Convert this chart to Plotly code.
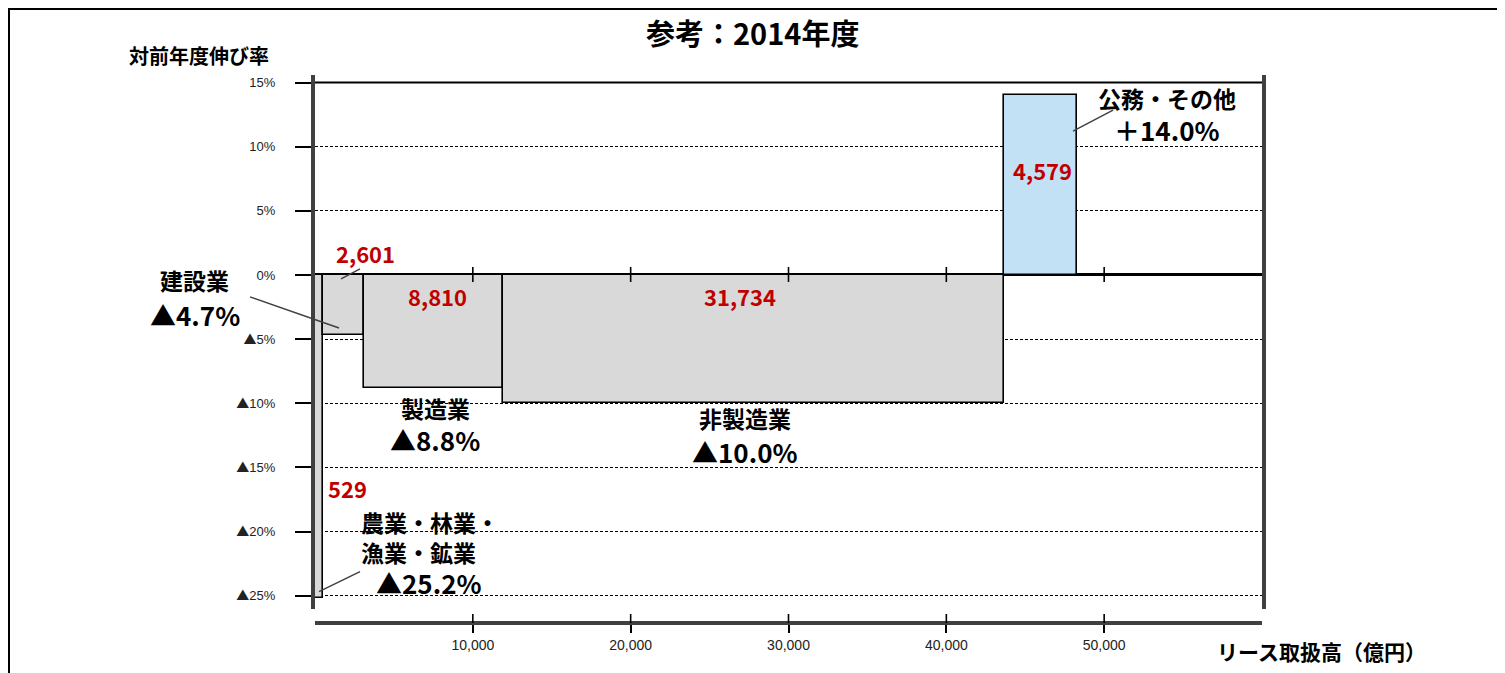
import numpy as np
import plotly.graph_objects as go

# ---------------- data ----------------
categories = ["農業・林業・漁業・鉱業", "建設業", "製造業", "非製造業", "公務・その他"]
name_labels = ["農業・林業・<br>漁業・鉱業", "建設業", "製造業", "非製造業", "公務・その他"]
amounts = [529, 2601, 8810, 31734, 4579]        # リース取扱高（億円）
growth = [-25.2, -4.7, -8.8, -10.0, 14.0]       # 対前年度伸び率（%）
y_ticks = [15, 10, 5, 0, -5, -10, -15, -20, -25]
x_ticks = [10000, 20000, 30000, 40000, 50000]

# ---------------- styles / label placement ----------------
FONT = "Noto Sans CJK JP"
TICKFONT = "Liberation Sans"
RED = "#c00000"
bar_colors = ["#d9d9d9", "#d9d9d9", "#d9d9d9", "#d9d9d9", "#c3e1f5"]
value_pos = [(2028, -16.6), (3168, 1.71), (7793, -1.64), (26928, -1.64), (46063, 8.18)]
name_pos = [(2788, -20.4), (-7603, -0.39), (7603, -10.36), (27245, -11.14), (53983, 13.79)]
name_anchor = ["left", "center", "center", "center", "center"]
growth_pos = [(7223, -23.99), (-7603, -3.1), (7603, -12.85), (27245, -13.79), (53983, 11.37)]
leaders = [((2851, -23.13), (253, -24.69)),
           ((-4118, -1.71), (1521, -4.13)),
           ((1647, -0.31), (2851, 0.47)),
           ((48027, 11.21), (50561, 12.85))]

W, H = 1497, 665
MARGIN = dict(l=307, r=243, t=67, b=40)
Y_RANGE = [-26.04, 15.59]
X_RANGE = [0, 60000]
Y_DOMAIN = [0.043, 1]
XAXIS_POS = 0.0179
PAPER_W = W - MARGIN["l"] - MARGIN["r"]
PAPER_H = H - MARGIN["t"] - MARGIN["b"]


def px(x):
    return (x - X_RANGE[0]) / (X_RANGE[1] - X_RANGE[0])


def py(y):
    return Y_DOMAIN[0] + (y - Y_RANGE[0]) / (Y_RANGE[1] - Y_RANGE[0]) * (Y_DOMAIN[1] - Y_DOMAIN[0])


def fig_x(pix):   # figure pixel -> paper fraction
    return (pix - MARGIN["l"]) / PAPER_W


def fig_y(pix):
    return (H - MARGIN["b"] - pix) / PAPER_H


def tri(label):
    return label.replace("▲", "<span style='font-family:Noto Sans CJK JP'>▲</span>")


# ---------------- geometry from data ----------------
amt = np.array(amounts, dtype=float)
rights = np.cumsum(amt)
lefts = rights - amt
centers = lefts + amt / 2

fig = go.Figure()

fig.add_trace(go.Bar(
    x=centers, y=growth, width=amt, base=0,
    marker=dict(color=bar_colors, line=dict(color="black", width=1.6)),
    hoverinfo="skip", showlegend=False,
))

annotations = []
for i, v in enumerate(amounts):
    annotations.append(dict(
        x=px(value_pos[i][0]), y=py(value_pos[i][1]), xref="paper", yref="paper",
        xanchor="center", yanchor="middle",
        text=f"<b>{v:,}</b>", showarrow=False,
        font=dict(family=FONT, size=22, color=RED),
    ))
for i, g in enumerate(growth):
    annotations.append(dict(
        x=px(name_pos[i][0]), y=py(name_pos[i][1]), xref="paper", yref="paper",
        xanchor=name_anchor[i], yanchor="middle", align="left",
        text=f"<b>{name_labels[i]}</b>", showarrow=False,
        font=dict(family=FONT, size=23, color="black"),
    ))
    sign = "▲" if g < 0 else "＋"
    annotations.append(dict(
        x=px(growth_pos[i][0]), y=py(growth_pos[i][1]), xref="paper", yref="paper",
        xanchor="center", yanchor="middle",
        text=f"<b>{sign}{abs(g):.1f}%</b>", showarrow=False,
        font=dict(family=FONT, size=26, color="black"),
    ))

annotations += [
    dict(x=fig_x(744), y=fig_y(24), xref="paper", yref="paper",
         xanchor="center", yanchor="middle",
         text="<b>参考：2014年度</b>", showarrow=False,
         font=dict(family=FONT, size=29, color="black")),
    dict(x=fig_x(191), y=fig_y(47), xref="paper", yref="paper",
         xanchor="center", yanchor="middle",
         text="<b>対前年度伸び率</b>", showarrow=False,
         font=dict(family=FONT, size=20, color="black")),
    dict(x=fig_x(1313), y=fig_y(643), xref="paper", yref="paper",
         xanchor="center", yanchor="middle",
         text="<b>リース取扱高（億円）</b>", showarrow=False,
         font=dict(family=FONT, size=21, color="black")),
]

shapes = []
# leader lines
for (p0, p1) in leaders:
    shapes.append(dict(type="line", xref="paper", yref="paper",
                       x0=px(p0[0]), y0=py(p0[1]), x1=px(p1[0]), y1=py(p1[1]),
                       line=dict(color="#404040", width=1.5)))
# solid top line at max tick
shapes.append(dict(type="line", xref="paper", yref="paper", x0=0, x1=1,
                   y0=py(max(y_ticks)), y1=py(max(y_ticks)), line=dict(color="black", width=2)))
# ticks crossing the zero line
for t in x_ticks:
    shapes.append(dict(type="line", xref="paper", yref="paper", x0=px(t), x1=px(t),
                       ysizemode="pixel", yanchor=py(0), y0=-7, y1=8,
                       line=dict(color="black", width=1.6)))
# upper half of ticks on bottom axis
for t in x_ticks:
    shapes.append(dict(type="line", xref="paper", yref="paper", x0=px(t), x1=px(t),
                       ysizemode="pixel", yanchor=XAXIS_POS, y0=0, y1=9,
                       line=dict(color="black", width=1.6)))
# outer frame (top, left, right)
shapes.append(dict(type="path", xref="paper", yref="paper",
                   path=(f"M {fig_x(1)} {fig_y(H + 20)} L {fig_x(1)} {fig_y(1)} "
                         f"L {fig_x(1492)} {fig_y(1)} L {fig_x(1492)} {fig_y(H + 20)}"),
                   line=dict(color="black", width=2)))

fig.update_layout(
    width=W, height=H,
    margin=dict(**MARGIN, autoexpand=False),
    paper_bgcolor="white", plot_bgcolor="white",
    bargap=0,
    xaxis=dict(
        range=X_RANGE, anchor="free", position=XAXIS_POS,
        showline=True, linecolor="#404040", linewidth=4,
        ticks="outside", ticklen=8, tickwidth=1.6, tickcolor="black",
        tickvals=x_ticks, ticktext=[f"{t:,}" for t in x_ticks],
        tickfont=dict(family=TICKFONT, size=14, color="#222"),
        showgrid=False, zeroline=False, fixedrange=True,
    ),
    yaxis=dict(
        range=Y_RANGE, domain=Y_DOMAIN,
        showline=True, mirror=True, linecolor="#404040", linewidth=4,
        ticks="outside", ticklen=16, tickwidth=2, tickcolor="black",
        tickvals=y_ticks,
        ticktext=[tri(f"{t}%" if t >= 0 else f"▲{abs(t)}%") for t in y_ticks],
        tickfont=dict(family=TICKFONT, size=13, color="#222"),
        ticklabelstandoff=17,
        showgrid=True, gridcolor="black", gridwidth=1.2, griddash="3px,2px",
        zeroline=True, zerolinecolor="black", zerolinewidth=2.5, fixedrange=True,
    ),
    annotations=annotations,
    shapes=shapes,
)

fig.write_html("out.html")
